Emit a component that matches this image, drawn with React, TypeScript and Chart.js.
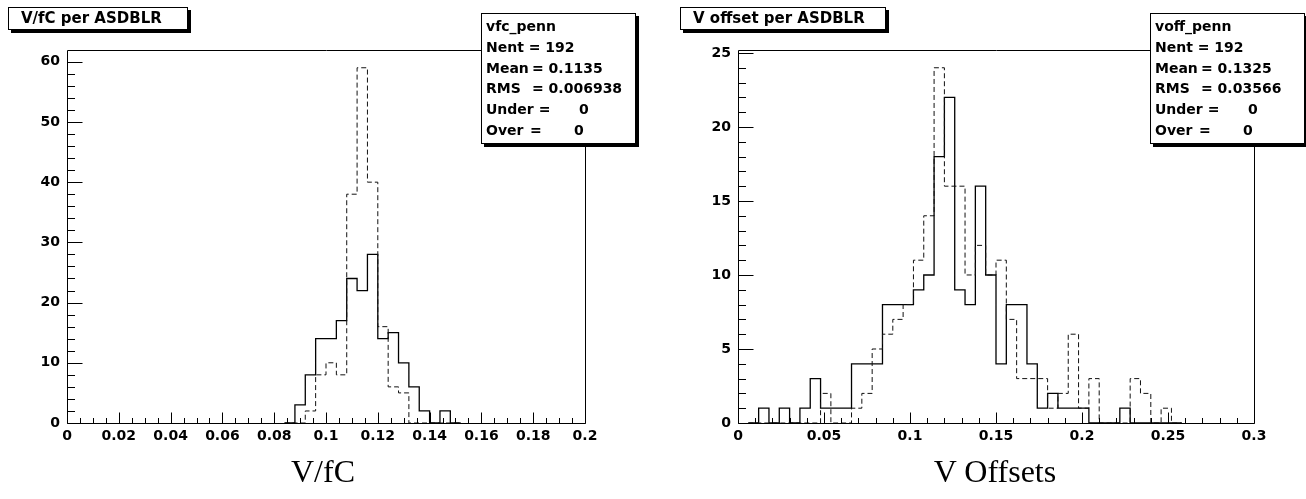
import React, { useEffect, useRef } from 'react';
import { Chart, registerables } from 'chart.js';

Chart.register(...registerables);

// ---------- Left histogram: V/fC (bin width 0.004) ----------
const vfcBinEdges = [0.084, 0.088, 0.092, 0.096, 0.1, 0.104, 0.108, 0.112, 0.116, 0.12, 0.124, 0.128, 0.132, 0.136, 0.14, 0.144, 0.148, 0.152];
const vfcSolid = [0, 3, 8, 14, 14, 17, 24, 22, 28, 14, 15, 10, 6, 2, 0, 2, 0];
const vfcDashed = [0, 0, 2, 8, 10, 8, 38, 59, 40, 16, 6, 5, 0, 0, 0, 0, 0];
const vfcXTicks = [0, 0.02, 0.04, 0.06, 0.08, 0.1, 0.12, 0.14, 0.16, 0.18, 0.2];
const vfcXTickLabels = ['0', '0.02', '0.04', '0.06', '0.08', '0.1', '0.12', '0.14', '0.16', '0.18', '0.2'];
const vfcYTicks = [0, 10, 20, 30, 40, 50, 60];
const vfcYTickLabels = ['0', '10', '20', '30', '40', '50', '60'];

// ---------- Right histogram: V offsets (bin width 0.006) ----------
const voffBinEdges = [0.006, 0.012, 0.018, 0.024, 0.03, 0.036, 0.042, 0.048, 0.054, 0.06, 0.066, 0.072, 0.078, 0.084, 0.09, 0.096, 0.102, 0.108, 0.114, 0.12, 0.126, 0.132, 0.138, 0.144, 0.15, 0.156, 0.162, 0.168, 0.174, 0.18, 0.186, 0.192, 0.198, 0.204, 0.21, 0.216, 0.222, 0.228, 0.234, 0.24, 0.246, 0.252, 0.258];
const voffSolid = [0, 1, 0, 1, 0, 1, 3, 1, 1, 1, 4, 4, 4, 8, 8, 8, 9, 10, 18, 22, 9, 8, 16, 10, 4, 8, 8, 4, 1, 2, 1, 1, 1, 0, 0, 0, 1, 0, 0, 0, 0, 0];
const voffDashed = [0, 0, 0, 0, 0, 0, 0, 2, 0, 0, 1, 2, 5, 6, 7, 8, 11, 14, 24, 16, 16, 10, 12, 10, 11, 7, 3, 3, 3, 1, 2, 6, 1, 3, 0, 0, 0, 3, 2, 0, 1, 0];
const voffXTicks = [0, 0.05, 0.1, 0.15, 0.2, 0.25, 0.3];
const voffXTickLabels = ['0', '0.05', '0.1', '0.15', '0.2', '0.25', '0.3'];
const voffYTicks = [0, 5, 10, 15, 20, 25];
const voffYTickLabels = ['0', '5', '10', '15', '20', '25'];

const vfcStats = { name: 'vfc_penn', nent: '192', mean: '0.1135', rms: '0.006938', under: '0', over: '0' };
const voffStats = { name: 'voff_penn', nent: '192', mean: '0.1325', rms: '0.03566', under: '0', over: '0' };

const SANS = '"DejaVu Sans", sans-serif';

const rootFrame = {
  id: 'rootFrame',
  afterDatasetsDraw(chart: any, _args: any, opts: any) {
    const { ctx, chartArea: a, scales } = chart;
    const x = scales.x;
    const y = scales.y;
    ctx.save();
    ctx.strokeStyle = '#000';
    ctx.lineWidth = 1;
    ctx.setLineDash([]);
    const L = Math.round(a.left) + 0.5;
    const R = Math.round(a.right) + 0.5;
    const T = Math.round(a.top) + 0.5;
    const B = Math.round(a.bottom) + 0.5;
    ctx.beginPath();
    ctx.rect(L, T, R - L, B - T);
    const nx = Math.round((x.max - x.min) / opts.xMinor);
    for (let i = 0; i <= nx; i++) {
      const v = x.min + i * opts.xMinor;
      const r = v / opts.xMajor;
      const major = Math.abs(r - Math.round(r)) < 1e-6;
      const px = Math.round(x.getPixelForValue(v)) + 0.5;
      const len = major ? opts.xLen : opts.xLen / 2;
      ctx.moveTo(px, B);
      ctx.lineTo(px, B - len);
    }
    const ny = Math.floor((y.max - y.min) / opts.yMinor + 1e-9);
    for (let i = 0; i <= ny; i++) {
      const v = y.min + i * opts.yMinor;
      const r = v / opts.yMajor;
      const major = Math.abs(r - Math.round(r)) < 1e-6;
      const py = Math.round(y.getPixelForValue(v)) + 0.5;
      const len = major ? opts.yLen : opts.yLen / 2;
      ctx.moveTo(L, py);
      ctx.lineTo(L + len, py);
    }
    ctx.stroke();
    ctx.restore();
  },
};

function toSteps(edges: number[], counts: number[]) {
  return edges.map((e, i) => ({ x: e, y: i < counts.length ? counts[i] : 0 }));
}

interface HistProps {
  left: number;
  edges: number[];
  solid: number[];
  dashed: number[];
  xMax: number;
  yMax: number;
  xTicks: number[];
  xLabels: string[];
  yTicks: number[];
  yLabels: string[];
  axisLeft: number;
  axisRight: number;
  frameTop: number;
  frameBottom: number;
  xMinor: number;
  yMinor: number;
}

function Histo(p: HistProps) {
  const ref = useRef<HTMLCanvasElement | null>(null);
  useEffect(() => {
    if (!ref.current) return;
    const W = 653;
    const H = 499;
    const chart = new Chart(ref.current, {
      type: 'line',
      data: {
        datasets: [
          {
            data: toSteps(p.edges, p.dashed),
            stepped: true,
            borderColor: '#111',
            borderWidth: 1,
            borderDash: [5, 3],
            pointRadius: 0,
            fill: false,
          },
          {
            data: toSteps(p.edges, p.solid),
            stepped: true,
            borderColor: '#000',
            borderWidth: 1.3,
            pointRadius: 0,
            fill: false,
          },
        ],
      },
      options: {
        responsive: false,
        animation: false,
        events: [],
        layout: { padding: { top: p.frameTop, right: W - p.axisRight, left: 0, bottom: 0 } },
        plugins: {
          legend: { display: false },
          tooltip: { enabled: false },
          title: { display: false },
          rootFrame: {
            xMinor: p.xMinor,
            xMajor: p.xTicks[1],
            yMinor: p.yMinor,
            yMajor: p.yTicks[1],
            xLen: 11,
            yLen: 15,
          },
        } as any,
        scales: {
          x: {
            type: 'linear',
            min: 0,
            max: p.xMax,
            grid: { display: false, drawTicks: false },
            border: { display: false },
            afterBuildTicks: (s: any) => {
              s.ticks = p.xTicks.map((v) => ({ value: v }));
            },
            afterFit: (s: any) => {
              s.height = H - p.frameBottom;
            },
            ticks: {
              autoSkip: false,
              maxRotation: 0,
              padding: 5,
              color: '#000',
              font: { family: SANS, size: 14, weight: 'bold' },
              callback: (_v: any, i: number) => p.xLabels[i],
            },
          },
          y: {
            type: 'linear',
            min: 0,
            max: p.yMax,
            grid: { display: false, drawTicks: false },
            border: { display: false },
            afterBuildTicks: (s: any) => {
              s.ticks = p.yTicks.map((v) => ({ value: v }));
            },
            afterFit: (s: any) => {
              s.width = p.axisLeft;
            },
            ticks: {
              autoSkip: false,
              padding: 7,
              color: '#000',
              font: { family: SANS, size: 14, weight: 'bold' },
              callback: (_v: any, i: number) => p.yLabels[i],
            },
          },
        },
      },
      plugins: [rootFrame],
    } as any);
    return () => chart.destroy();
  }, []);
  return (
    <canvas
      ref={ref}
      width={653}
      height={499}
      style={{ position: 'absolute', left: p.left, top: 0, width: 653, height: 499 }}
    />
  );
}

function TitleBox({ left, top, width, text }: { left: number; top: number; width: number; text: string }) {
  return (
    <div
      style={{
        position: 'absolute',
        left,
        top,
        width,
        height: 23,
        boxSizing: 'border-box',
        border: '1px solid #000',
        background: '#fff',
        boxShadow: '3px 3px 0 #000',
        font: `bold 15px ${SANS}`,
        lineHeight: '20px',
        paddingLeft: 12,
        whiteSpace: 'pre',
      }}
    >
      {text}
    </div>
  );
}

function StatBox({ left, s }: { left: number; s: typeof vfcStats }) {
  const f = `bold 14px ${SANS}`;
  const lh = 20.8;
  const t0 = 2;
  const seg = (x: number, row: number, txt: string) => (
    <div style={{ position: 'absolute', left: x, top: t0 + row * lh, font: f, lineHeight: '20px', whiteSpace: 'pre' }}>
      {txt}
    </div>
  );
  return (
    <div
      style={{
        position: 'absolute',
        left,
        top: 13,
        width: 155,
        height: 131,
        boxSizing: 'border-box',
        border: '1px solid #000',
        background: '#fff',
        boxShadow: '3px 3px 0 #000',
      }}
    >
      {seg(4, 0, s.name)}
      {seg(4, 1, 'Nent = ' + s.nent)}
      {seg(4, 2, 'Mean')}
      {seg(50, 2, '= ' + s.mean)}
      {seg(4, 3, 'RMS')}
      {seg(50, 3, '= ' + s.rms)}
      {seg(4, 4, 'Under =')}
      {seg(97, 4, s.under)}
      {seg(4, 5, 'Over')}
      {seg(48, 5, '=')}
      {seg(92, 5, s.over)}
    </div>
  );
}

function Caption({ cx, text }: { cx: number; text: string }) {
  return (
    <div
      style={{
        position: 'absolute',
        left: cx - 150,
        width: 300,
        top: 452,
        textAlign: 'center',
        font: '32px "Liberation Serif", serif',
        lineHeight: '38px',
      }}
    >
      {text}
    </div>
  );
}

export default function App() {
  return (
    <div style={{ position: 'absolute', left: 0, top: 0, width: 1306, height: 499, background: '#fff', overflow: 'hidden' }}>
      <Histo
        left={0}
        edges={vfcBinEdges}
        solid={vfcSolid}
        dashed={vfcDashed}
        xMax={0.2}
        yMax={61.95}
        xTicks={vfcXTicks}
        xLabels={vfcXTickLabels}
        yTicks={vfcYTicks}
        yLabels={vfcYTickLabels}
        axisLeft={67}
        axisRight={585}
        frameTop={50}
        frameBottom={423}
        xMinor={0.005}
        yMinor={2}
      />
      <Histo
        left={653}
        edges={voffBinEdges}
        solid={voffSolid}
        dashed={voffDashed}
        xMax={0.3}
        yMax={25.2}
        xTicks={voffXTicks}
        xLabels={voffXTickLabels}
        yTicks={voffYTicks}
        yLabels={voffYTickLabels}
        axisLeft={85}
        axisRight={601}
        frameTop={50}
        frameBottom={423}
        xMinor={0.01}
        yMinor={1}
      />
      <TitleBox left={8} top={7} width={180} text="V/fC per ASDBLR" />
      <TitleBox left={680} top={7} width={206} text="V offset per ASDBLR" />
      <StatBox left={481} s={vfcStats} />
      <StatBox left={1150} s={voffStats} />
      <Caption cx={323} text="V/fC" />
      <Caption cx={995} text="V Offsets" />
    </div>
  );
}
